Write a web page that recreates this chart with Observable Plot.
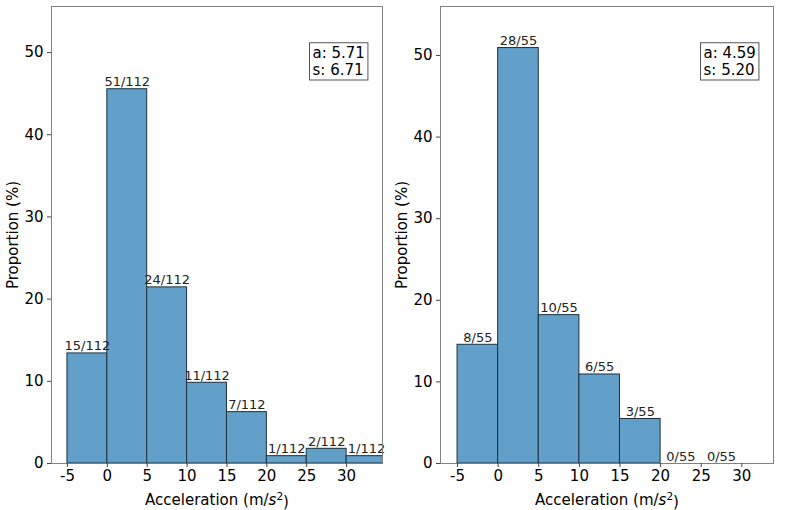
<!DOCTYPE html>
<html>
<head>
<meta charset="utf-8">
<script src="https://cdn.jsdelivr.net/npm/d3@7"></script>
<script src="https://cdn.jsdelivr.net/npm/@observablehq/plot@0.6"></script>
<style>
  html, body { margin: 0; padding: 0; background: #fff; }
  #wrap { display: flex; width: 785px; height: 510px; }
  svg { display: block; }
</style>
</head>
<body>
<div id="wrap"></div>
<script>
// ---- data ----
const leftBinStarts = [-5, 0, 5, 10, 15, 20, 25, 30];
const leftCounts = [15, 51, 24, 11, 7, 1, 2, 1];
const leftTotal = 112;
const leftStats = ["a: 5.71", "s: 6.71"];

const rightBinStarts = [-5, 0, 5, 10, 15, 20, 25];
const rightCounts = [8, 28, 10, 6, 3, 0, 0];
const rightTotal = 55;
const rightStats = ["a: 4.59", "s: 5.20"];

const binWidth = 5;
const xTicks = [-5, 0, 5, 10, 15, 20, 25, 30];
const yTicks = [0, 10, 20, 30, 40, 50];
const xLabel = "Acceleration (m/s²)";
const yLabel = "Proportion (%)";

const wrap = document.getElementById("wrap");

function panel(starts, counts, total, stats, cfg) {
  const data = starts.map((s, i) => ({
    x1: s, x2: s + binWidth, count: counts[i], p: counts[i] / total * 100
  }));
  const svg = Plot.plot({
    width: cfg.width, height: 510,
    marginTop: 6, marginBottom: 47,
    marginLeft: cfg.marginLeft, marginRight: cfg.marginRight,
    style: { fontFamily: "DejaVu Sans", fontSize: "15px", color: "#000", background: "transparent" },
    x: { domain: cfg.xDomain },
    y: { domain: cfg.yDomain },
    marks: [
      Plot.rectY(data.filter(d => d.count > 0), {
        x1: "x1", x2: "x2", y: "p",
        fill: "#62a0ca", stroke: "#1d303d", strokeWidth: 1, clip: "frame"
      }),
      Plot.text(data, {
        x: d => (d.x1 + d.x2) / 2, y: "p",
        text: d => `${d.count}/${total}`,
        lineAnchor: "bottom", dy: -3, fontSize: 13, fill: "#222"
      }),
      Plot.frame({ stroke: "#808080" }),
      Plot.axisX(xTicks, {
        tickSize: 4, tickPadding: 3, stroke: "#444", fontSize: 15,
        tickFormat: d => String(d),
        label: xLabel, labelAnchor: "center", labelArrow: "none", labelOffset: 41
      }),
      Plot.axisY(yTicks, {
        tickSize: 4, tickPadding: 4, stroke: "#444", fontSize: 15,
        label: yLabel, labelAnchor: "center", labelArrow: "none", labelOffset: 44
      }),
      Plot.text([stats.join("\n")], {
        frameAnchor: "top-right", dx: -70, dy: 39,
        textAnchor: "start", lineAnchor: "top",
        fontSize: 15, lineHeight: 1.15, fill: "#000"
      })
    ]
  });
  wrap.appendChild(svg);

  // box around stats text
  const node = Array.from(svg.querySelectorAll("text"))
    .find(t => t.textContent.startsWith(stats[0]));
  if (node) {
    const bb = node.getBBox();
    const rect = document.createElementNS("http://www.w3.org/2000/svg", "rect");
    rect.setAttribute("x", bb.x - 3);
    rect.setAttribute("y", bb.y - 1);
    rect.setAttribute("width", bb.width + 6);
    rect.setAttribute("height", bb.height + 2);
    rect.setAttribute("fill", "#fff");
    rect.setAttribute("stroke", "#555");
    rect.setAttribute("stroke-width", 1);
    const tr = node.getAttribute("transform");
    if (tr) rect.setAttribute("transform", tr);
    node.parentNode.insertBefore(rect, node);
  }

  // italic s and superscript 2 in x label
  d3.select(svg).selectAll("text").each(function () {
    if (this.textContent === xLabel) {
      const t = d3.select(this);
      t.text("");
      t.append("tspan").text("Acceleration (m/");
      t.append("tspan").attr("font-style", "italic").text("s");
      t.append("tspan").attr("font-size", "10.5px").attr("dy", "-0.45em").text("2");
      t.append("tspan").attr("dy", "0.45em").text(")");
    }
  });
}

panel(leftBinStarts, leftCounts, leftTotal, leftStats,
  { width: 392, marginLeft: 51, marginRight: 10, xDomain: [-7, 34.5], yDomain: [0, 55.6] });
panel(rightBinStarts, rightCounts, rightTotal, rightStats,
  { width: 393, marginLeft: 48, marginRight: 12, xDomain: [-7.1, 33.9], yDomain: [0, 56] });
</script>
</body>
</html>
